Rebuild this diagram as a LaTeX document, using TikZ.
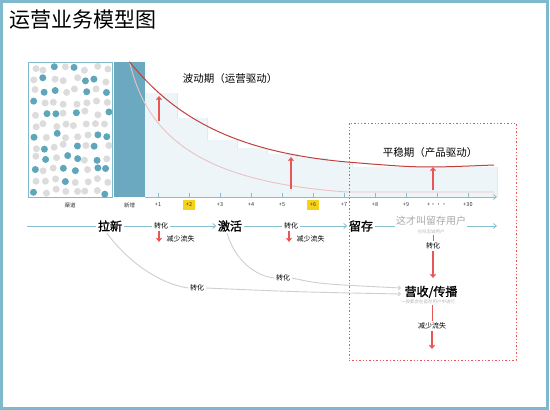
\documentclass[tikz,border=0pt]{standalone}
\usepackage{fontspec}
\setmainfont{Noto Sans CJK SC}
\newfontfamily\stagefont{Noto Sans CJK SC}[FakeBold=1.5]
\usetikzlibrary{arrows.meta,positioning,calc}
\definecolor{frameline}{HTML}{7FB9CC}
\definecolor{barteal}{HTML}{6AA9BF}
\definecolor{barlight}{HTML}{EDF5F8}
\definecolor{barline}{HTML}{DCECF1}
\definecolor{axisline}{HTML}{86BFD2}
\definecolor{dotteal}{HTML}{5FA6BA}
\definecolor{dotgray}{HTML}{DCDCDC}
\definecolor{curvedark}{HTML}{C0403C}
\definecolor{curvelight}{HTML}{EBC2C2}
\definecolor{arrowred}{HTML}{E85656}
\definecolor{hilite}{HTML}{F7D21A}
\definecolor{softgray}{HTML}{A8A8A8}
\definecolor{linkgray}{HTML}{CFCFCF}
\tikzset{
  ticklabel/.style={font=\fontsize{5.5}{6}\selectfont, text=black!80, inner sep=1.5pt},
  stagelabel/.style={font=\stagefont\fontsize{12}{13}\selectfont, inner sep=1.5pt},
  convlabel/.style={font=\fontsize{7}{8}\selectfont, inner sep=1.5pt},
  phaselabel/.style={font=\fontsize{10.5}{11}\selectfont},
  sublabel/.style={font=\fontsize{4.5}{5}\selectfont, text=softgray!80, inner sep=0.5pt},
  flowline/.style={axisline, line width=0.8pt},
  redarrow/.style={draw=arrowred, line width=1.1pt, -{Straight Barb[length=3pt,width=5pt]}},
  linkcurve/.style={linkgray, line width=0.9pt, -{Straight Barb[length=2pt,width=4pt]}},
}
\begin{document}
\begin{tikzpicture}[x=1pt,y=-1pt]
\useasboundingbox (0,0) rectangle (550,410);
\fill[white] (0,0) rectangle (550,410);
\draw[frameline, line width=3pt] (1.5,1.5) rectangle (547.5,408);

% ---------- title
\node[anchor=west, font=\fontsize{21}{22}\selectfont] (title) at (6,20) {运营业务模型图};

% ---------- channel box with users
\node[draw=frameline, line width=1pt, minimum width=84pt, minimum height=135pt, inner sep=0] (channel) at (70,129.5) {};
\pgfmathsetseed{11}
\foreach \i in {0,...,7} {
  \foreach \j in {0,...,11} {
    \pgfmathsetmacro\dx{34.5+10.3*\i+2.4*rand}
    \pgfmathsetmacro\dy{68.5+11.2*\j+2.6*rand}
    \pgfmathtruncatemacro\isteal{rnd<0.26}
    \ifnum\isteal=1 \def\dc{dotteal}\else\def\dc{dotgray}\fi
    \fill[\dc] (\dx,\dy) circle (3.5pt);
  }
}
\node[ticklabel] (chlabel) at (70,205) {渠道};

% ---------- new users bar and retention bars
\foreach \l/\r/\t in {145/177/93, 177/207/118, 207/237/140, 237/267/148, 267/297/154,
                      297/327/158, 327/352/162, 352/497/167} {
  \fill[barlight] (\l,\t) rectangle (\r,197);
  \draw[barline, line width=0.8pt] (\r,\t) -- (\r,197);
}
\node[fill=barteal, minimum width=31pt, minimum height=135pt, inner sep=0] (newbar) at (129.5,129.5) {};
\node[ticklabel] (newlabel) at (129.5,205) {新增};

% ---------- curves
\coordinate (peak) at (newbar.north);
\coordinate (upmid) at (347,162);
\coordinate (upend) at (494,165);
\coordinate (lowmid) at (347,192);
\coordinate (lowend) at (494,192);
\draw[curvelight, line width=0.9pt] (peak) .. controls (148,140) and (205,182) .. (lowmid) -- (lowend);
\draw[curvedark, line width=1pt] (peak) .. controls (175,118) and (235,152) .. (upmid) .. controls (420,168) .. (upend);
\draw[redarrow] (159,121) -- (159,96);
\draw[redarrow] (291,189) -- (291,157);
\draw[redarrow] (433,190) -- (433,167);

% ---------- time axis
\coordinate (axstart) at (145,197);
\coordinate (axend) at (497,197);
\draw[flowline, -{Straight Barb[length=3pt,width=5pt]}] (axstart) -- (axend);
\foreach \i/\lab in {1/+1, 2/+2, 3/+3, 4/+4, 5/+5, 6/+6, 7/+7, 8/+8, 9/+9, 10/+···, 11/+30} {
  \draw[axisline, line width=0.6pt] (127+31*\i,197) -- (127+31*\i,193);
  \node[ticklabel] (t\i) at (127+31*\i,205) {\lab};
}
\foreach \i in {2,6} {
  \node[fill=hilite, minimum width=12pt, minimum height=10pt, inner sep=0] at (t\i) {};
  \node[ticklabel] at (t\i) {+\i};
}

% ---------- phases
\node[phaselabel] (wave) at (230,79) {波动期（运营驱动）};
\node[draw=arrowred, line width=1pt, dash pattern=on 1.4pt off 2pt, minimum width=167pt, minimum height=237pt, inner sep=0] (stable) at (432.5,241.5) {};
\node[phaselabel] (steady) at (430,153) {平稳期（产品驱动）};

% ---------- funnel row
\coordinate (flowstart) at (27,226);
\coordinate (flowend) at (497,226);
\node[stagelabel] (pull) at (110,226) {拉新};
\node[convlabel] (conv1) at (161,226) {转化};
\node[stagelabel] (activate) at (230,226) {激活};
\node[convlabel] (conv2) at (291,226) {转化};
\node[stagelabel] (retain) at (361,226) {留存};
\node[font=\fontsize{10}{11}\selectfont, text=softgray, inner sep=1pt] (loyal) at (431,221) {这才叫留存用户};
\node[sublabel] (loyalsub) at (431,232) {也叫忠诚用户};
\draw[flowline] (flowstart) -- (pull);
\draw[flowline] (pull) -- (conv1);
\draw[flowline, -{Straight Barb[length=3pt,width=5pt]}] (conv1) -- (activate);
\draw[flowline] (activate) -- (conv2);
\draw[flowline, -{Straight Barb[length=3pt,width=5pt]}] (conv2) -- (retain);
\draw[flowline] (retain) -- (loyal.west |- retain);
\draw[flowline, -{Straight Barb[length=3pt,width=5pt]}] (loyal.east |- retain) -- (flowend);

% ---------- churn
\node[convlabel, anchor=west] (loss1) at ($(conv1.south)+(4,8)$) {减少流失};
\node[convlabel, anchor=west] (loss2) at ($(conv2.south)+(4,8)$) {减少流失};
\draw[redarrow] ([xshift=-2pt]conv1.south) -- ++(0,11);
\draw[redarrow] ([xshift=-2pt]conv2.south) -- ++(0,11);

% ---------- revenue column
\node[convlabel] (conv3) at (433,246) {转化};
\node[stagelabel] (revenue) at (431,292) {营收/传播};
\node[sublabel] (revsub) at (428,302) {一般都会在留存用户中进行};
\node[convlabel] (loss3) at (432,326) {减少流失};
\coordinate (revtop) at (433,278);
\coordinate (bottom) at (432,349);
\draw[arrowred, line width=0.9pt] (loyalsub.south -| conv3) -- (conv3.north);
\draw[redarrow] (conv3.south) -- (revtop);
\draw[arrowred, line width=0.9pt] (revsub.south -| loss3) -- (loss3.north);
\draw[redarrow] (loss3.south) -- (bottom);

% ---------- conversions into revenue
\node[convlabel] (link1) at (197,288) {转化};
\node[convlabel] (link2) at (283,278) {转化};
\coordinate (rev1) at (401,294);
\coordinate (rev2) at (401,288);
\draw[linkgray, line width=0.9pt] ([xshift=-3pt]pull.south) .. controls (128,262) and (160,284) .. (link1.west);
\draw[linkcurve] (link1.east) .. controls (300,292) .. (rev1);
\draw[linkgray, line width=0.9pt] ([xshift=-3pt]activate.south) .. controls (235,260) and (255,276) .. (link2.west);
\draw[linkcurve] (link2.east) .. controls (320,284) .. (rev2);
\end{tikzpicture}
\end{document}
